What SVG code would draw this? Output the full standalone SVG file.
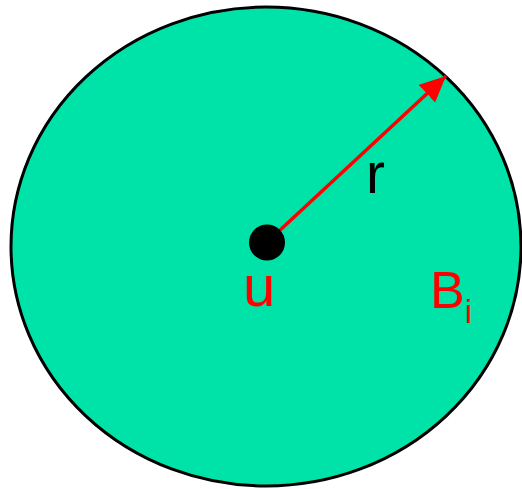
<svg xmlns="http://www.w3.org/2000/svg" width="522" height="489" viewBox="0 0 522 489">
<defs>
<style>
.lbl{font-family:"Liberation Sans",Arial,sans-serif;}
</style>
<marker id="ah" markerUnits="userSpaceOnUse" markerWidth="28" markerHeight="26" refX="26" refY="12" orient="auto">
<path d="M0,0 L26,12 L0,24 Z" fill="#ff0000"/>
</marker>
</defs>
<rect width="522" height="489" fill="#ffffff"/>
<g id="ball">
<ellipse cx="266" cy="246.5" rx="255" ry="239.5" fill="#00e3a8" stroke="#000" stroke-width="3"/>
<text class="lbl" x="430" y="308" font-size="52" fill="#ff0000">B<tspan font-size="33" dy="15">i</tspan></text>
</g>
<g id="connectors">
<line x1="278" y1="232" x2="446" y2="76" stroke="#ff0000" stroke-width="3.5" marker-end="url(#ah)"/>
<text class="lbl" x="366" y="193" font-size="57" fill="#000">r</text>
</g>
<g id="u">
<circle cx="267" cy="242.5" r="18" fill="#000"/>
<text class="lbl" x="243" y="306" font-size="58" fill="#ff0000">u</text>
</g>
</svg>
